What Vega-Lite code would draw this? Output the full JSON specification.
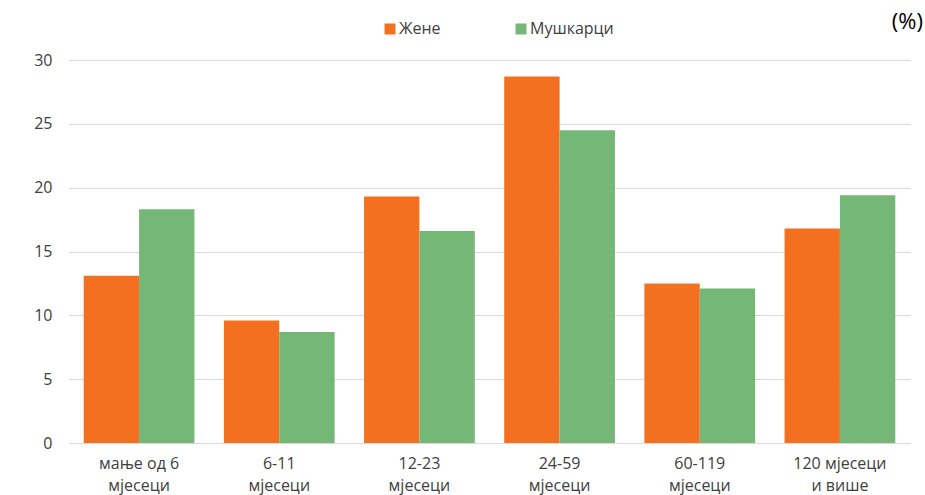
{
  "$schema": "https://vega.github.io/schema/vega-lite/v6.json",
  "width": 841,
  "height": 383,
  "autosize": {"type": "none"},
  "padding": {"left": 69, "top": 60, "right": 15, "bottom": 52},
  "background": "white",
  "title": {"text": "(%)", "anchor": "end", "orient": "top", "frame": "group", "dx": 13, "offset": -13, "fontSize": 22, "font": "Open Sans", "fontWeight": "normal", "color": "#000000"},
  "config": {
    "view": {"stroke": null},
    "font": "Open Sans",
    "axis": {"labelFont": "Open Sans", "labelColor": "#404040", "labelFontSize": 16}
  },
  "data": {
    "values": [
      {"age": "мање од 6|мјесеци", "sex": "Жене", "value": 13.1},
      {"age": "мање од 6|мјесеци", "sex": "Мушкарци", "value": 18.3},
      {"age": "6-11|мјесеци", "sex": "Жене", "value": 9.6},
      {"age": "6-11|мјесеци", "sex": "Мушкарци", "value": 8.7},
      {"age": "12-23|мјесеци", "sex": "Жене", "value": 19.3},
      {"age": "12-23|мјесеци", "sex": "Мушкарци", "value": 16.6},
      {"age": "24-59|мјесеци", "sex": "Жене", "value": 28.7},
      {"age": "24-59|мјесеци", "sex": "Мушкарци", "value": 24.5},
      {"age": "60-119|мјесеци", "sex": "Жене", "value": 12.5},
      {"age": "60-119|мјесеци", "sex": "Мушкарци", "value": 12.1},
      {"age": "120 мјесеци|и више", "sex": "Жене", "value": 16.8},
      {"age": "120 мјесеци|и више", "sex": "Мушкарци", "value": 19.4}
    ]
  },
  "mark": {"type": "bar"},
  "encoding": {
    "x": {
      "field": "age", "type": "nominal", "sort": null,
      "scale": {"paddingInner": 0.21, "paddingOuter": 0.105},
      "axis": {"title": null, "labelAngle": 0, "ticks": false, "domain": true, "domainColor": "#d9d9d9", "labelPadding": 12, "labelExpr": "split(datum.label, '|')", "labelLineHeight": 22}
    },
    "xOffset": {"field": "sex", "type": "nominal", "sort": ["Жене", "Мушкарци"]},
    "y": {
      "field": "value", "type": "quantitative",
      "scale": {"domain": [0, 30]},
      "axis": {"title": null, "values": [0, 5, 10, 15, 20, 25, 30], "labelOverlap": false, "domain": false, "ticks": false, "labelPadding": 17, "gridColor": "#d9d9d9", "gridWidth": 1}
    },
    "color": {
      "field": "sex", "type": "nominal",
      "scale": {"domain": ["Жене", "Мушкарци"], "range": ["#F37021", "#75B777"]},
      "legend": {"title": null, "orient": "none", "legendX": 313, "legendY": -39, "direction": "horizontal", "symbolType": "square", "symbolSize": 121, "symbolStrokeWidth": 0, "labelFontSize": 16, "labelFont": "Open Sans", "labelColor": "#404040", "columnPadding": 72, "labelOffset": 1}
    }
  }
}
